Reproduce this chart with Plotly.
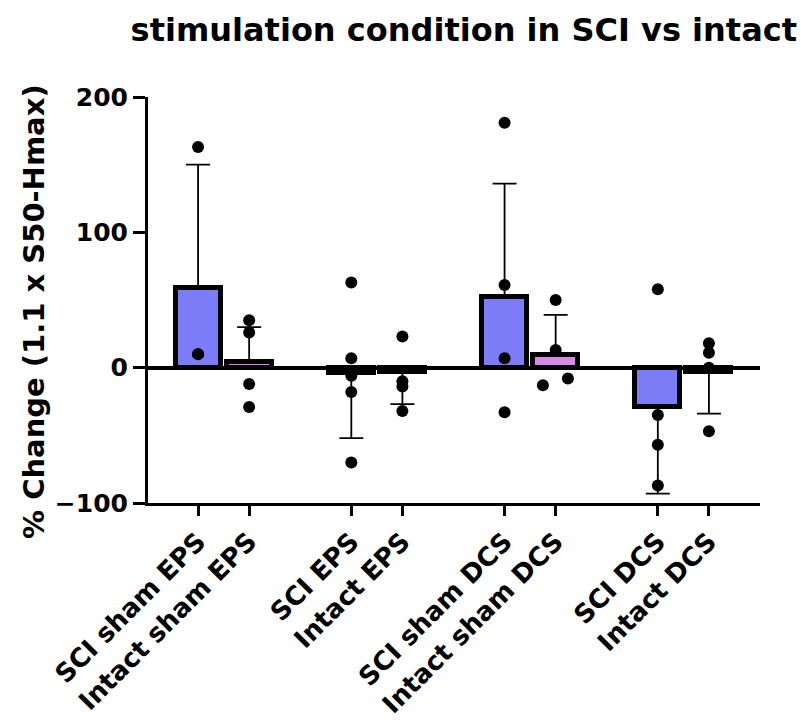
import plotly.graph_objects as go

# ---- data ----
categories = ["SCI sham EPS", "Intact sham EPS", "SCI EPS", "Intact EPS",
              "SCI sham DCS", "Intact sham DCS", "SCI DCS", "Intact DCS"]
means = [59, 4, -4, -3, 52, 9, -29, -3]
sds = [91, 26, 48, 24, 84, 30, 64, 31]
points = [
    [163, 10, 10],
    [35, 26, -12, -29],
    [63, 7, -6, -18, -70],
    [23, -10, -14, -32],
    [181, 61, 7, -33],
    [50, 13, -13, -8],
    [58, -35, -57, -87],
    [18, 11, 0, -47],
]
# small horizontal scatter offsets (category units) where dots collide
point_offsets = [
    [0, 0, 0],
    [0, 0, 0, 0],
    [0, 0, 0, 0, 0],
    [0, 0, 0, 0],
    [0, 0, 0, 0],
    [0, 0, -0.25, 0.24],
    [0, 0, 0, 0],
    [0, 0, 0, 0],
]
y_ticks = [-100, 0, 100, 200]

SCI_COLOR = "#7b7cf6"
INTACT_COLOR = "#d68ae8"
FONT = "DejaVu Sans"

# two bars per group, one empty slot between groups
xpos = [3 * (i // 2) + (i % 2) for i in range(len(categories))]
colors = [SCI_COLOR if i % 2 == 0 else INTACT_COLOR for i in range(len(categories))]

err_up = [s if m >= 0 else 0 for m, s in zip(means, sds)]
err_dn = [s if m < 0 else 0 for m, s in zip(means, sds)]

fig = go.Figure()
fig.add_trace(go.Bar(
    x=xpos, y=means, width=0.88,
    marker=dict(color=colors, line=dict(color="black", width=5)),
    error_y=dict(type="data", symmetric=False, array=err_up, arrayminus=err_dn,
                 color="black", thickness=1.8, width=12),
    showlegend=False,
))

px, py = [], []
for x0, vals, offs in zip(xpos, points, point_offsets):
    for v, o in zip(vals, offs):
        px.append(x0 + o)
        py.append(v)
fig.add_trace(go.Scatter(
    x=px, y=py, mode="markers",
    marker=dict(color="black", size=12),
    cliponaxis=False, showlegend=False,
))

fig.update_layout(
    width=801, height=728,
    margin=dict(l=148, r=41, t=97, b=225, autoexpand=False),
    plot_bgcolor="white", paper_bgcolor="white",
    title=dict(text="stimulation condition in SCI vs intact",
               font=dict(family=FONT, size=32, color="black", weight="bold"),
               xref="container", x=0.995, xanchor="right",
               yref="container", y=1 - 30 / 728, yanchor="middle"),
    bargap=0,
)
fig.update_xaxes(
    range=[-0.98, 11.0], automargin=False,
    tickmode="array", tickvals=xpos, ticktext=categories,
    tickangle=-45,
    tickfont=dict(family=FONT, size=26, color="black", weight="bold"),
    ticks="outside", ticklen=10, tickwidth=3, tickcolor="black",
    showline=True, linewidth=3, linecolor="black",
    showgrid=False, zeroline=False,
)
fig.update_yaxes(
    range=[-100, 200], automargin=False,
    tickmode="array", tickvals=y_ticks,
    tickfont=dict(family=FONT, size=25, color="black", weight="bold"),
    ticks="outside", ticklen=12, tickwidth=3, tickcolor="black",
    showline=True, linewidth=3, linecolor="black",
    showgrid=False,
    zeroline=True, zerolinewidth=4, zerolinecolor="black",
)
fig.add_annotation(
    text="% Change (1.1 x S50-Hmax)",
    xref="paper", yref="paper",
    x=(34 - 148) / 612, y=(503 - 312) / 406,
    textangle=-90, showarrow=False,
    xanchor="center", yanchor="middle",
    font=dict(family=FONT, size=29, color="black", weight="bold"),
)

fig.write_html("out.html")
